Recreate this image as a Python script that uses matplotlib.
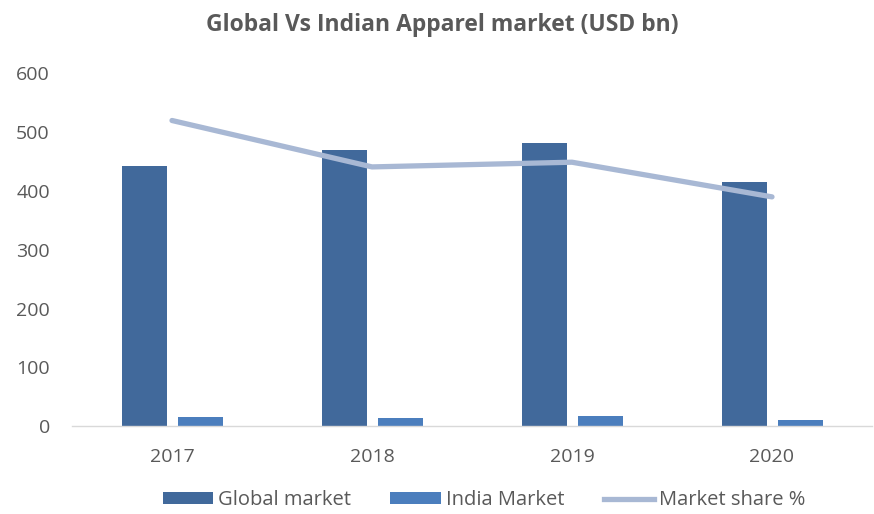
import matplotlib.pyplot as plt
import numpy as np
from matplotlib.patches import Patch
from matplotlib.lines import Line2D

# Apparel market size, USD bn
years = ["2017", "2018", "2019", "2020"]
global_market = [443, 469, 482, 415]
india_market = [16, 14, 17, 11]
# market share series, drawn on the same axis scale
market_share = [520, 441, 449, 390]

yticks = [0, 100, 200, 300, 400, 500, 600]

plt.rcParams['font.family'] = ['Open Sans', 'DejaVu Sans']

c_global = "#41699B"
c_india = "#4B7EBD"
c_share = "#A8B8D4"
c_text = "#595959"

fig = plt.figure(figsize=(8.74, 5.14), dpi=100)
ax = fig.add_axes([72 / 874, 1 - 426 / 514, 800 / 874, (426 - 73.5) / 514])

x = np.arange(len(years))
w = 0.225
ax.bar(x - 0.14, global_market, width=w, color=c_global, zorder=2)
ax.bar(x + 0.14, india_market, width=w, color=c_india, zorder=2)
ax.plot(x, market_share, color=c_share, linewidth=3.8, solid_capstyle="round", zorder=3)

ax.set_xlim(-0.5, len(years) - 0.5)
ax.set_ylim(0, 600)
ax.set_yticks(yticks)
ax.set_xticks(x)
ax.set_xticklabels(years)

for s in ["top", "right", "left"]:
    ax.spines[s].set_visible(False)
ax.spines["bottom"].set_color("#D9D9D9")
ax.spines["bottom"].set_linewidth(1.0)
ax.tick_params(axis="both", length=0, labelsize=14, labelcolor=c_text)
ax.tick_params(axis="y", pad=16)
ax.tick_params(axis="x", pad=16)

fig.text(442 / 874, 1 - 25 / 514, "Global Vs Indian Apparel market (USD bn)",
         ha="center", va="center", fontsize=16.5, fontweight="bold", color=c_text)

handles = [
    Patch(facecolor=c_global, edgecolor="none"),
    Patch(facecolor=c_india, edgecolor="none"),
    Line2D([0], [0], color=c_share, linewidth=3.8),
]
labels = ["Global market", "India Market", "Market share %"]
leg = fig.legend(handles, labels, loc="center", bbox_to_anchor=(484 / 874, 1 - 500 / 514),
                 ncol=3, frameon=False, fontsize=14.5, handlelength=2.5, handleheight=0.5,
                 handletextpad=0.25, columnspacing=1.95, borderpad=0)
for t in leg.get_texts():
    t.set_color(c_text)

fig.savefig("out.png", dpi=100)
